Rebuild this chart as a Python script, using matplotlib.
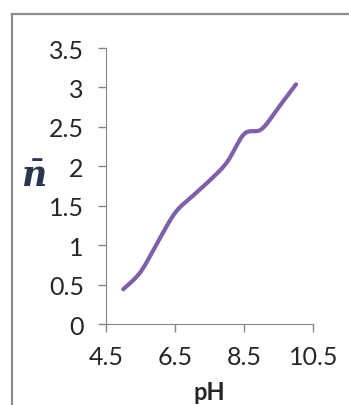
"""Average ligand number vs pH, smoothed line."""

import matplotlib
matplotlib.use("Agg")
import matplotlib.pyplot as plt
from matplotlib.lines import Line2D
import numpy as np

ph = [5.0, 5.5, 6.0, 6.5, 7.0, 7.5, 8.0, 8.5, 9.0, 9.5, 10.0]
n_bar = [0.44, 0.66, 1.04, 1.41, 1.62, 1.82, 2.05, 2.41, 2.47, 2.75, 3.04]
x_ticks = [4.5, 6.5, 8.5, 10.5]
y_ticks = [0, 0.5, 1, 1.5, 2, 2.5, 3, 3.5]


def smooth(xs, ys, steps=30):
    # Catmull-Rom style smoothing, like a spreadsheet "smoothed line"
    p = np.column_stack([xs, ys])
    p = np.vstack([p[0], p, p[-1]])
    out = []
    for i in range(1, len(p) - 2):
        p0, p1, p2, p3 = p[i - 1], p[i], p[i + 1], p[i + 2]
        c1 = p1 + (p2 - p0) / 6
        c2 = p2 - (p3 - p1) / 6
        t = np.linspace(0, 1, steps)[:, None]
        seg = ((1 - t) ** 3) * p1 + 3 * ((1 - t) ** 2) * t * c1 + 3 * (1 - t) * t ** 2 * c2 + t ** 3 * p2
        out.append(seg if i == 1 else seg[1:])
    pts = np.vstack(out)
    return pts[:, 0], pts[:, 1]


plt.rcParams["font.family"] = ["Lato", "DejaVu Sans"]
plt.rcParams["mathtext.fontset"] = "dejavuserif"
fig = plt.figure(figsize=(3.49, 4.06), dpi=100)
ax = fig.add_axes([0.3037, 0.1995, 0.594, 0.6798])

sx, sy = smooth(ph, n_bar)
ax.plot(sx, sy, color="#7d60a8", linewidth=3.0, solid_capstyle="round")

ax.set_xlim(4.5, 10.5)
ax.set_ylim(0, 3.5)
ax.set_xticks(x_ticks)
ax.set_xticklabels(["4.5", "6.5", "8.5", "10.5"])
ax.set_yticks(y_ticks)
ax.set_yticklabels(["0", "0.5", "1", "1.5", "2", "2.5", "3", "3.5"])
ax.tick_params(colors="#868686", labelcolor="#262626", labelsize=18, length=6, width=1)
ax.tick_params(axis="y", pad=10)
ax.tick_params(axis="x", pad=9)
for side in ("top", "right"):
    ax.spines[side].set_visible(False)
for side in ("left", "bottom"):
    ax.spines[side].set_color("#868686")

ax.set_xlabel("pH", fontsize=17, fontweight="bold", color="#262626", labelpad=9)
fig.text(0.095, 0.565, r"$\bar{\boldsymbol{n}}$", fontsize=25, color="#2a3550",
         ha="center", va="center")

# outer chart frame (only left and top edges visible in the crop)
fig.add_artist(Line2D([12 / 349, 12 / 349], [0, 1 - 15 / 406], transform=fig.transFigure,
                      color="#8c8c8c", linewidth=1.6))
fig.add_artist(Line2D([12 / 349, 1], [1 - 15 / 406, 1 - 15 / 406], transform=fig.transFigure,
                      color="#8c8c8c", linewidth=1.6))

fig.savefig("out.png", dpi=100)
